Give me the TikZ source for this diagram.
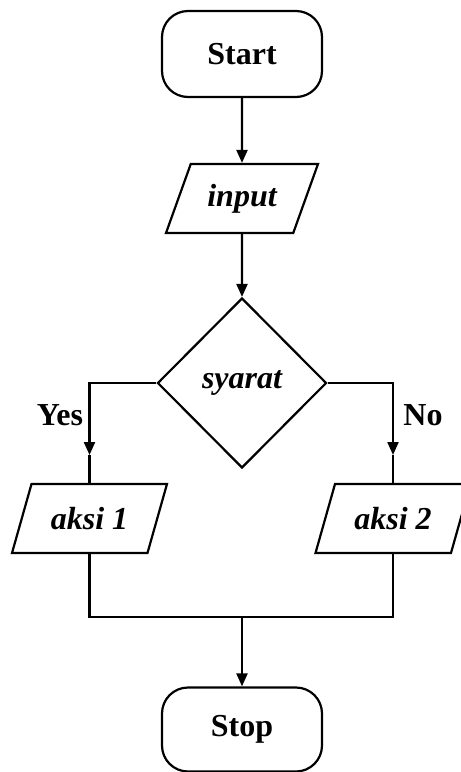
\documentclass[tikz,border=0pt]{standalone}
\usepackage{fontspec}
\setmainfont{Liberation Serif}
\usetikzlibrary{shapes.geometric,arrows.meta}

\tikzset{
  flow/.style={line width=2.2pt, line join=miter},
  arr/.style={flow, -{Triangle[length=13pt,width=11pt]}},
  bigtext/.style={font=\fontsize{32}{38}\selectfont\bfseries},
  terminal/.style={draw, flow, rectangle, rounded corners=26pt,
    minimum width=160pt, minimum height=86pt, inner sep=0pt, bigtext},
  io/.style={draw, flow, trapezium, trapezium left angle=60,
    trapezium right angle=120, trapezium stretches=true,
    minimum width=155pt, minimum height=69pt, inner sep=0pt,
    font=\fontsize{32}{38}\selectfont\bfseries\itshape},
  decision/.style={draw, flow, diamond, minimum width=169pt,
    minimum height=170pt, inner sep=0pt,
    font=\fontsize{32}{38}\selectfont\bfseries\itshape},
  branch/.style={bigtext, inner sep=0pt}
}

\begin{document}
\begin{tikzpicture}[x=1pt, y=-1pt]
  \useasboundingbox (0,0) rectangle (461,772);

  % nodes
  \node[terminal] (start) at (242,54) {Start};
  \node[io, minimum width=152pt] (input) at (242,198.5) {input};
  \node[decision] (syarat) at (242,383) {syarat};
  \node[io] (aksi1) at (89.5,518.5) {aksi 1};
  \node[io] (aksi2) at (393,518.5) {aksi 2};
  \node[terminal, minimum height=84pt] (stop) at (242,729.5) {Stop};

  \node[branch] (yes) at (60,415) {Yes};
  \node[branch] (no) at (423,415) {No};

  % arrow heads placed midway on the branch lines
  \coordinate (yestip) at (aksi1.north |- 0,455);
  \coordinate (notip) at (aksi2.north |- 0,455);
  \coordinate (join) at (242,617);

  % connectors
  \draw[arr] (start.south) -- (input.north);
  \draw[arr] (input.south) -- (syarat.north);
  \draw[arr] (syarat.west) -| (yestip);
  \draw[flow] (yestip) -- (aksi1.north);
  \draw[arr] (syarat.east) -| (notip);
  \draw[flow] (notip) -- (aksi2.north);
  \draw[flow] (aksi1.south) |- (join);
  \draw[flow] (aksi2.south) |- (join);
  \draw[arr] (join) -- (stop.north);
\end{tikzpicture}
\end{document}
